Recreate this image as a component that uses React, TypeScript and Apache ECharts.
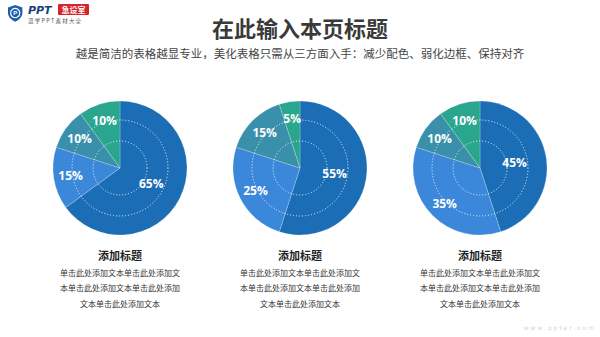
import React, { useEffect, useRef } from "react";
import * as echarts from "echarts";

const pieTitles = ["添加标题", "添加标题", "添加标题"];
const sliceNames = ["A", "B", "C", "D"];
const pieValues = [
  [65, 15, 10, 10],
  [55, 25, 15, 5],
  [45, 35, 10, 10],
];
const descLines = [
  "单击此处添加文本单击此处添加文",
  "本单击此处添加文本单击此处添加",
  "文本单击此处添加文本",
];
const mainTitle = "在此输入本页标题";
const subTitle = "越是简洁的表格越显专业，美化表格只需从三方面入手：减少配色、弱化边框、保持对齐";

const COLORS = ["#1b6db5", "#3b87d9", "#3a8faa", "#2aa68f"];
const CENTERS: [number, number][] = [
  [120, 168],
  [300, 168],
  [480, 168],
];
const R = 67;

echarts.graphic.registerShape(
  "shield",
  echarts.graphic.extendPath(
    "M12 0 L24 4 L24 13 C24 20 18 25 12 28 C6 25 0 20 0 13 L0 4 Z",
    {}
  )
);

export default function App() {
  const ref = useRef<HTMLDivElement>(null);
  useEffect(() => {
    if (!ref.current) return;
    const chart = echarts.init(ref.current, undefined, { renderer: "svg" });

    const series: any[] = pieValues.map((vals, si) => {
      const total = vals.reduce((a, b) => a + b, 0);
      return {
        type: "pie",
        center: CENTERS[si],
        radius: [0, R],
        startAngle: 90,
        clockwise: true,
        silent: true,
        itemStyle: { borderColor: "rgba(255,255,255,0.35)", borderWidth: 0.6 },
        label: {
          show: true,
          position: "inside",
          formatter: "{c}%",
          color: "#ffffff",
          fontSize: 12,
          fontWeight: "bold",
          fontFamily: "Open Sans, Noto Sans, sans-serif",
        },
        labelLine: { show: false },
        labelLayout: (params: any) => {
          const di = params.dataIndex;
          let before = 0;
          for (let i = 0; i < di; i++) before += vals[i];
          const mid = ((before + vals[di] / 2) / total) * Math.PI * 2;
          const target = di === 0 ? 32 : 47;
          const d = target - R / 2;
          return { dx: d * Math.sin(mid), dy: -d * Math.cos(mid) };
        },
        data: vals.map((v, i) => ({
          name: sliceNames[i],
          value: v,
          itemStyle: { color: COLORS[i] },
        })),
      };
    });

    const graphics: any[] = [];
    // dotted circles
    CENTERS.forEach(([cx, cy]) => {
      [27, 48].forEach((r) => {
        graphics.push({
          type: "circle",
          shape: { cx, cy, r },
          silent: true,
          z: 100,
          style: {
            fill: "none",
            stroke: "rgba(255,255,255,0.9)",
            lineWidth: 1,
            lineDash: [1, 2],
          },
        });
      });
    });
    // titles
    graphics.push({
      type: "text",
      x: 300,
      y: 27,
      style: {
        text: mainTitle,
        fill: "#3a3a3a",
        font: "bold 22px 'Noto Sans CJK SC', sans-serif",
        align: "center",
        verticalAlign: "middle",
      },
    });
    graphics.push({
      type: "text",
      x: 300,
      y: 53,
      style: {
        text: subTitle,
        fill: "#444444",
        font: "11.5px 'Noto Sans CJK SC', sans-serif",
        align: "center",
        verticalAlign: "middle",
      },
    });
    // bottom texts
    CENTERS.forEach(([cx], i) => {
      graphics.push({
        type: "text",
        x: cx,
        y: 255,
        style: {
          text: pieTitles[i],
          fill: "#222222",
          font: "bold 11px 'Noto Sans CJK SC', sans-serif",
          align: "center",
          verticalAlign: "middle",
        },
      });
      descLines.forEach((line, li) => {
        graphics.push({
          type: "text",
          x: cx,
          y: 272 + li * 15.5,
          style: {
            text: line,
            fill: "#333333",
            font: "8px 'Noto Sans CJK SC', sans-serif",
            align: "center",
            verticalAlign: "middle",
          },
        });
      });
    });
    // logo
    graphics.push({
      type: "shield",
      x: 8,
      y: 5,
      scaleX: 0.6,
      scaleY: 0.6,
      style: { fill: "#1d5fae" },
    });
    graphics.push({
      type: "circle",
      shape: { cx: 15.2, cy: 13, r: 4.6 },
      style: { fill: "none", stroke: "#ffffff", lineWidth: 1.2 },
    });
    graphics.push({
      type: "text",
      x: 15.2,
      y: 13,
      style: {
        text: "P",
        fill: "#ffffff",
        font: "bold 6px sans-serif",
        align: "center",
        verticalAlign: "middle",
      },
    });
    graphics.push({
      type: "text",
      x: 28,
      y: 10,
      style: {
        text: "PPT",
        fill: "#1d3f7a",
        font: "italic bold 11px 'DejaVu Sans', sans-serif",
        verticalAlign: "middle",
      },
    });
    graphics.push({
      type: "rect",
      shape: { x: 58, y: 4, width: 31, height: 11, r: 1 },
      style: { fill: "#d8232a" },
    });
    graphics.push({
      type: "text",
      x: 73.5,
      y: 9.5,
      style: {
        text: "急设室",
        fill: "#ffffff",
        font: "bold 8px 'Noto Sans CJK SC', sans-serif",
        align: "center",
        verticalAlign: "middle",
      },
    });
    graphics.push({
      type: "text",
      x: 28,
      y: 20.5,
      style: {
        text: "逗 学 P P T 素 材 大 全",
        fill: "#555555",
        font: "5.5px 'Noto Sans CJK SC', sans-serif",
        verticalAlign: "middle",
      },
    });
    // watermark
    graphics.push({
      type: "text",
      x: 594,
      y: 327,
      style: {
        text: "w w w . p p t e r . c o m",
        fill: "#d4d4d4",
        font: "6px 'DejaVu Sans', sans-serif",
        align: "right",
        verticalAlign: "middle",
      },
    });

    chart.setOption({
      animation: false,
      backgroundColor: "#ffffff",
      series,
      graphic: graphics,
    });
    return () => chart.dispose();
  }, []);
  return (
    <div
      ref={ref}
      style={{ position: "fixed", left: 0, top: 0, width: 600, height: 337 }}
    />
  );
}
